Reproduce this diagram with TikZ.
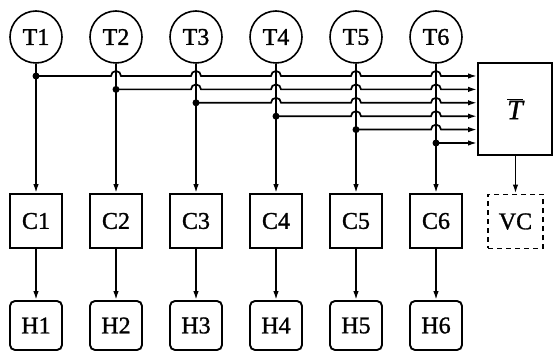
\documentclass[tikz,border=0pt]{standalone}
\usepackage{fontspec}
\setmainfont{Liberation Serif}[FakeBold=1.2]
\usetikzlibrary{arrows.meta,calc}

\begin{document}
\begin{tikzpicture}[x=1pt,y=-1pt,
 every node/.style={font=\fontsize{24}{26}\selectfont},
 tcirc/.style={draw,circle,line width=1.6pt,minimum size=52pt,inner sep=0pt},
 cbox/.style={draw,rectangle,line width=1.9pt,minimum width=52pt,minimum height=54pt,inner sep=0pt},
 hbox/.style={cbox,rounded corners=5pt,minimum height=49pt},
 arr/.style={line width=1.7pt,-{Latex[length=9pt,width=5.5pt]}}]
 \useasboundingbox (0,0) rectangle (553,352);

 %sensors
 \node[tcirc] (T1) at (36,37) {T1};
 \node[tcirc] (T2) at (116,37) {T2};
 \node[tcirc] (T3) at (196,37) {T3};
 \node[tcirc] (T4) at (276,37) {T4};
 \node[tcirc] (T5) at (356,37) {T5};
 \node[tcirc] (T6) at (436,37) {T6};

 %controllers
 \node[cbox] (C1) at (36,221) {C1};
 \node[cbox] (C2) at (116,221) {C2};
 \node[cbox] (C3) at (196,221) {C3};
 \node[cbox] (C4) at (276,221) {C4};
 \node[cbox] (C5) at (356,221) {C5};
 \node[cbox] (C6) at (436,221) {C6};

 %heaters
 \node[hbox] (H1) at (36,325.5) {H1};
 \node[hbox] (H2) at (116,325.5) {H2};
 \node[hbox] (H3) at (196,325.5) {H3};
 \node[hbox] (H4) at (276,325.5) {H4};
 \node[hbox] (H5) at (356,325.5) {H5};
 \node[hbox] (H6) at (436,325.5) {H6};

 %mean value box and virtual controller
 \node[cbox,minimum width=74pt,minimum height=92pt] (Tbar) at (515,109) {\fontsize{28}{30}\selectfont$\overline{\textit{T}}$};
 \node[cbox,minimum width=55pt,dash pattern=on 5pt off 4pt] (VC) at (515.5,221.5) {VC};

 %tap points on the bus
 \coordinate (d1) at (36,76);
 \coordinate (d2) at (116,89.4);
 \coordinate (d3) at (196,102.8);
 \coordinate (d4) at (276,116.2);
 \coordinate (d5) at (356,129.6);
 \coordinate (d6) at (436,143);

 %sensor to controller to heater
 \draw[arr] (T1) -- (C1);
 \draw[arr] (T2) -- (C2);
 \draw[arr] (T3) -- (C3);
 \draw[arr] (T4) -- (C4);
 \draw[arr] (T5) -- (C5);
 \draw[arr] (T6) -- (C6);
 \draw[arr] (C1) -- (H1);
 \draw[arr] (C2) -- (H2);
 \draw[arr] (C3) -- (H3);
 \draw[arr] (C4) -- (H4);
 \draw[arr] (C5) -- (H5);
 \draw[arr] (C6) -- (H6);
 \draw[arr] (VC.north |- Tbar.south) -- (VC.north);

 %bus lines, hopping over the other sensor lines
 \draw[arr] (d1) \foreach \k in {2,...,6}{ -- ($(d1 -| T\k)-(5,0)$) arc (180:0:5pt)} -- (d1 -| Tbar.west);
 \draw[arr] (d2) \foreach \k in {3,...,6}{ -- ($(d2 -| T\k)-(5,0)$) arc (180:0:5pt)} -- (d2 -| Tbar.west);
 \draw[arr] (d3) \foreach \k in {4,5,6}{ -- ($(d3 -| T\k)-(5,0)$) arc (180:0:5pt)} -- (d3 -| Tbar.west);
 \draw[arr] (d4) \foreach \k in {5,6}{ -- ($(d4 -| T\k)-(5,0)$) arc (180:0:5pt)} -- (d4 -| Tbar.west);
 \draw[arr] (d5) -- ($(d5 -| T6)-(5,0)$) arc (180:0:5pt) -- (d5 -| Tbar.west);
 \draw[arr] (d6) -- (d6 -| Tbar.west);

 %junction dots
 \fill (d1) circle (3.5pt);
 \fill (d2) circle (3.5pt);
 \fill (d3) circle (3.5pt);
 \fill (d4) circle (3.5pt);
 \fill (d5) circle (3.5pt);
 \fill (d6) circle (3.5pt);
\end{tikzpicture}
\end{document}
